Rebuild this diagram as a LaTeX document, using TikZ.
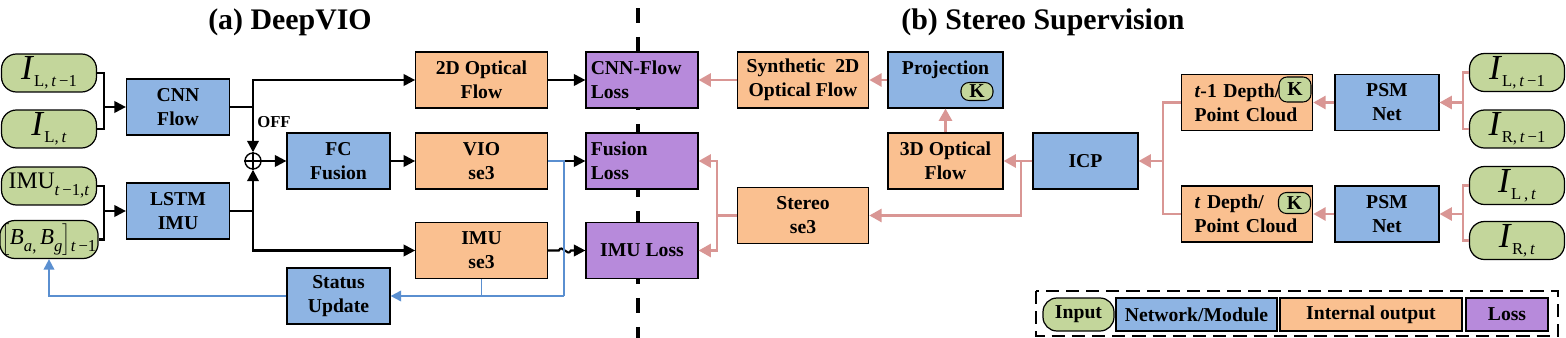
\documentclass[tikz,border=0pt]{standalone}
\usepackage{fontspec}
\setmainfont{Liberation Serif}
\usepackage{xcolor}
\usetikzlibrary{arrows.meta}

\definecolor{ingreen}{HTML}{C3D69B}
\definecolor{netblue}{HTML}{8EB4E3}
\definecolor{outorange}{HTML}{FAC090}
\definecolor{losspurple}{HTML}{B78ADB}
\definecolor{supred}{HTML}{D99694}
\definecolor{fbblue}{HTML}{5A8FD0}

\newcommand{\imgsub}[1]{\raisebox{-4pt}{\fontsize{9.5}{9.5}\selectfont #1}}

\begin{document}
\begin{tikzpicture}[
    x=0.02cm, y=-0.02cm,
    font=\fontsize{11.2}{13.6}\selectfont\bfseries,
    box/.style={draw, line width=0.7pt, minimum height=1.12cm, align=center, inner sep=2pt},
    net/.style={box, fill=netblue, minimum width=2.06cm},
    outp/.style={box, fill=outorange, minimum width=2.63cm},
    loss/.style={box, fill=losspurple, minimum width=2.24cm},
    inp/.style={draw, line width=0.7pt, rounded corners=0.3cm, fill=ingreen,
      minimum width=1.9cm, minimum height=0.76cm, inner sep=1pt,
      font=\fontsize{20}{20}\selectfont},
    kbox/.style={draw, line width=0.6pt, rounded corners=0.16cm, fill=ingreen,
      minimum width=0.64cm, minimum height=0.36cm, inner sep=0pt},
    ln/.style={line width=1.2pt},
    ar/.style={-{Triangle[length=6.5pt, width=6.5pt]}, line width=1.2pt},
    sln/.style={line width=1.3pt, color=supred},
    sar/.style={-{Triangle[length=7pt, width=7.5pt]}, line width=1.3pt, color=supred},
    bln/.style={line width=1.1pt, color=fbblue},
    bar/.style={-{Triangle[length=6pt, width=6pt]}, line width=1.1pt, color=fbblue},
    sep/.style={line width=1.8pt, dash pattern=on 8.5pt off 8pt},
    title/.style={font=\fontsize{17}{17}\selectfont\bfseries},
  ]
    \useasboundingbox (0,0) rectangle (1566,338);
    % separator between (a) and (b)
    \draw[sep] (638,8) -- (638,338);
    \node[title] (ta) at (290,22)  {(a) DeepVIO};
    \node[title] (tb) at (1043,22) {(b) Stereo Supervision};

    % (a) inputs
    \node[inp] (il1)  at (49,73)    {\textit{I}\imgsub{L,\,\textit{t}\,−1}};
    \node[inp] (il2)  at (49,129)   {\textit{I}\imgsub{L,\,\textit{t}}};
    \node[inp] (imu)  at (49,186)   {\fontsize{13.5}{13.5}\selectfont IMU\imgsub{\textit{t}\,−1,\textit{t}}};
    \node[inp] (bias) at (49,239.5) {\fontsize{13}{13}\selectfont$\Bigl[$\textit{B}\imgsub{\textit{a},}\,\textit{B}\imgsub{\textit{g}}$\Bigr]$\imgsub{\textit{t}\,−1}};
    % (a) networks and outputs
    \node[net]  (cnn)     at (178,107)   {CNN\\Flow};
    \node[net]  (lstm)    at (178,211)   {LSTM\\IMU};
    \node[draw, circle, line width=0.8pt, minimum size=0.32cm, inner sep=0pt] (plus) at (253,161) {};
    \draw[line width=0.8pt] (plus.north) -- (plus.south) (plus.west) -- (plus.east);
    \node[font=\fontsize{9.5}{9.5}\selectfont\bfseries] (off) at (274,122) {OFF};
    \node[net]  (fc)      at (338.5,161) {FC\\Fusion};
    \node[outp] (flow2d)  at (481.5,80)  {2D Optical\\Flow};
    \node[outp] (vio)     at (481.5,161) {VIO\\se3};
    \node[outp] (imuse3)  at (481.5,250.5) {IMU\\se3};
    \node[net]  (status)  at (338.5,296) {Status\\Update};
    \node[loss, text width=2.05cm, align=left] (cnnloss) at (642,80)  {CNN-Flow\\Loss};
    \node[loss, text width=2.05cm, align=left] (fusloss) at (642,161) {Fusion\\Loss};
    \node[loss] (imuloss) at (642,250.5) {IMU Loss};

    % (a) connectors
    \coordinate (jin1) at (104,107);
    \draw[ln] (il1.east) -| (jin1) |- (il2.east);
    \draw[ar] (jin1) -- (cnn);
    \coordinate (jin2) at (104,211);
    \draw[ln] (imu.east) -| (jin2) |- (bias.east);
    \draw[ar] (jin2) -- (lstm);
    \coordinate (jcnn) at (253,107);
    \draw[ln] (cnn) -- (jcnn);
    \draw[ar] (jcnn) |- (flow2d);
    \draw[ar] (jcnn) -- (plus);
    \coordinate (jlstm) at (253,211);
    \draw[ln] (lstm) -- (jlstm);
    \draw[ar] (jlstm) -- (plus);
    \draw[ar] (jlstm) |- (imuse3);
    \draw[ar] (plus) -- (fc);
    \draw[ar] (fc) -- (vio);
    \draw[ar] (flow2d) -- (cnnloss);
    \draw[ar] (vio) -- (fusloss);
    \draw[ar] (imuse3.east) -- ++(11,0) .. controls +(3,-7) and +(-3,7) .. ++(12,0) -- (imuloss.west);
    % status feedback
    \coordinate (jfb) at (564,296);
    \draw[bln] (vio.east) -| (jfb);
    \draw[bln] (imuse3.south) -- (imuse3.south |- jfb);
    \draw[bar] (jfb) -- (status);
    \draw[bar] (status) -| (bias);

    % (b) stereo supervision
    \node[outp] (synth)  at (803,80)    {Synthetic\ \ 2D\\Optical Flow};
    \node[net, minimum width=2.3cm] (proj)   at (945.5,80)  {Projection\\\mbox{}};
    \node[kbox] (kproj) at (977,91.5) {K};
    \node[outp, minimum width=2.3cm] (flow3d) at (945.5,161) {3D Optical\\Flow};
    \node[net, minimum width=2.1cm] (icp) at (1085.5,161) {ICP};
    \node[outp] (stereo) at (803,215.5) {Stereo\\se3};
    \node[outp, text width=2.1cm, align=left] (dep1) at (1247,102.5) {\textit{t}-1 Depth/\\Point Cloud};
    \node[kbox, minimum height=0.5cm] (kdep1) at (1295,89.5) {K};
    \node[outp, text width=2.1cm, align=left] (dep2) at (1247,214) {\textit{t} Depth/\\Point Cloud};
    \node[kbox, minimum height=0.42cm] (kdep2) at (1294.5,203) {K};
    \node[net, minimum width=2.08cm] (psm1) at (1387,102.5) {PSM\\Net};
    \node[net, minimum width=2.08cm] (psm2) at (1387,214) {PSM\\Net};
    \node[inp] (ir1) at (1517,72.5)  {\textit{I}\imgsub{L,\,\textit{t}\,−1}};
    \node[inp] (ir2) at (1517,129)   {\textit{I}\imgsub{R,\,\textit{t}\,−1}};
    \node[inp] (ir3) at (1517,185.5) {\textit{I}\imgsub{L\,,\,\textit{t}}};
    \node[inp] (ir4) at (1517,240.5) {\textit{I}\imgsub{R,\,\textit{t}}};

    % (b) connectors
    \coordinate (jr1) at (1463,102.5);
    \draw[sln] (ir1.west) -| (jr1) |- (ir2.west);
    \draw[sar] (jr1) -- (psm1);
    \coordinate (jr2) at (1463,214);
    \draw[sln] (ir3.west) -| (jr2) |- (ir4.west);
    \draw[sar] (jr2) -- (psm2);
    \draw[sar] (psm1) -- (dep1);
    \draw[sar] (psm2) -- (dep2);
    \coordinate (jdep) at (1163,161);
    \draw[sln] (dep1.west) -| (jdep) |- (dep2.west);
    \draw[sar] (jdep) -- (icp);
    \draw[sar] (icp) -- (flow3d);
    \coordinate (jicp) at (1021,161);
    \draw[sar] (jicp) |- (stereo);
    \draw[sar] (flow3d) -- (proj);
    \draw[sar] (proj) -- (synth);
    \draw[sar] (synth) -- (cnnloss);
    \coordinate (jst) at (717,215.5);
    \draw[sln] (stereo) -- (jst);
    \draw[sar] (jst) |- (fusloss);
    \draw[sar] (jst) |- (imuloss);

    % legend
    \draw[line width=1.6pt, dash pattern=on 7.5pt off 4pt] (1036,291) rectangle (1558,336);
    \node[inp, font=\fontsize{11.2}{13.6}\selectfont\bfseries, minimum width=1.42cm,
      minimum height=0.66cm, rounded corners=0.28cm] (lgin) at (1078.5,314.5) {Input};
    \node[net, minimum width=3.22cm, minimum height=0.66cm] (lgnet) at (1196.5,314.5) {Network/Module};
    \node[outp, minimum width=3.64cm, minimum height=0.66cm] (lgout) at (1371,314.5) {Internal output};
    \node[loss, minimum width=1.64cm, minimum height=0.66cm] (lgloss) at (1507,314.5) {Loss};
  \end{tikzpicture}
\end{document}
